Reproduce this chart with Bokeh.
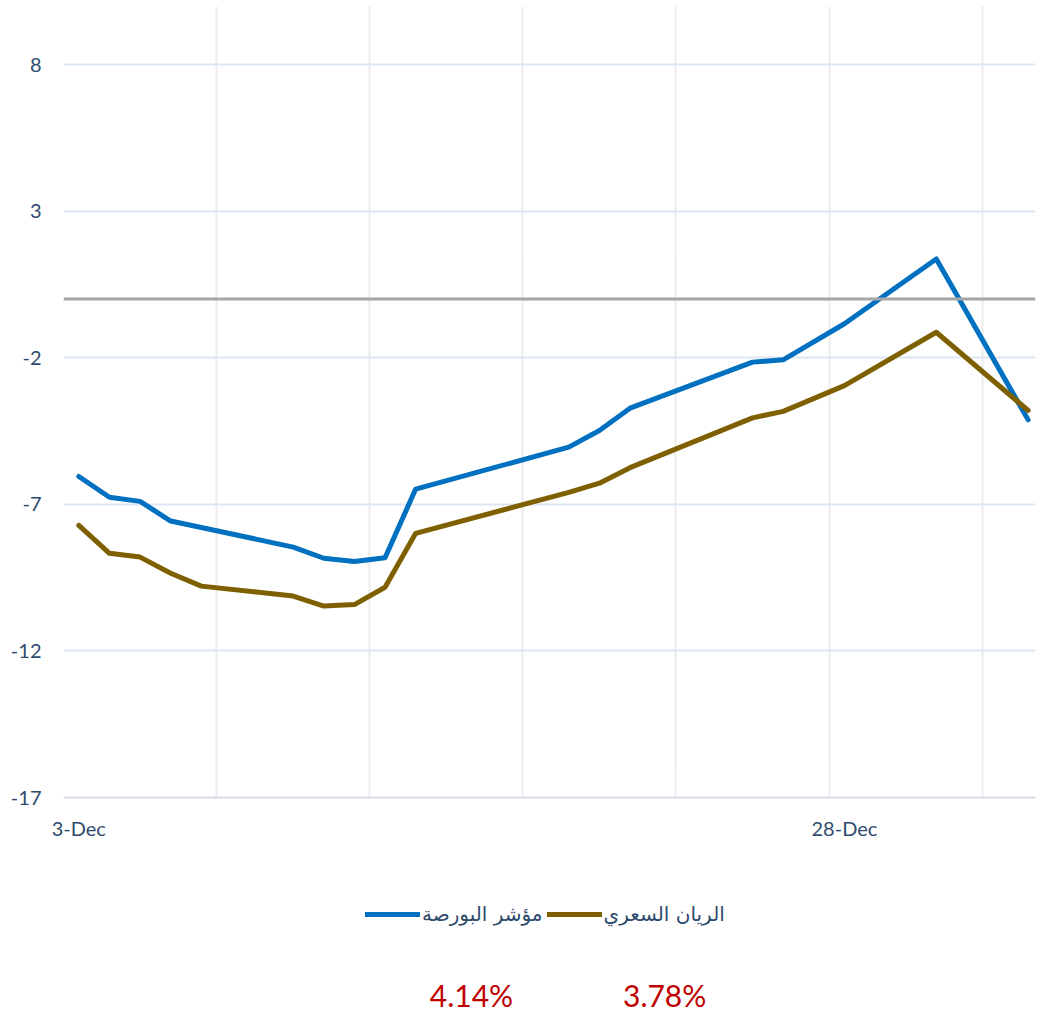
import pandas as pd
from bokeh.plotting import figure
from bokeh.layouts import column
from bokeh.models import (FixedTicker, Span, Legend, LegendItem, Label, Range1d)
from bokeh.embed import file_html
from bokeh.resources import INLINE

# ---- data ----
dates = ["2020-12-03", "2020-12-04", "2020-12-05", "2020-12-06", "2020-12-07",
         "2020-12-10", "2020-12-11", "2020-12-12", "2020-12-13", "2020-12-14",
         "2020-12-19", "2020-12-20", "2020-12-21", "2020-12-25", "2020-12-26",
         "2020-12-28", "2020-12-31", "2021-01-03"]
index_series = [-6.05, -6.76, -6.90, -7.57, -7.79, -8.46, -8.84, -8.95, -8.82, -6.48,
                -5.05, -4.48, -3.72, -2.15, -2.07, -0.84, 1.37, -4.12]
rayan_series = [-7.72, -8.67, -8.80, -9.35, -9.79, -10.13, -10.47, -10.42, -9.83, -7.99,
                -6.59, -6.28, -5.75, -4.05, -3.83, -2.95, -1.13, -3.80]
series_names = ["مؤشر البورصة", "الريان السعري"]
series_colors = ["#0070c0", "#7f6000"]
changes = ["4.14%", "3.78%"]
y_ticks = [-17, -12, -7, -2, 3, 8]
label_dates = ["2020-12-03", "2020-12-28"]

base = pd.Timestamp("2020-12-03")
x = [(pd.Timestamp(d) - base).days for d in dates]
label_x = [(pd.Timestamp(d) - base).days for d in label_dates]
label_txt = [pd.Timestamp(d).strftime("%d-%b").lstrip("0") for d in label_dates]

TXT = "#2f4b6e"
W = 1038
H1 = 860
p = figure(width=W, height=H1, output_backend="svg", toolbar_location=None,
           x_range=Range1d(-0.5, 31.24), y_range=Range1d(-17, 9.98),
           min_border_left=63, min_border_right=3, min_border_top=6,
           min_border_bottom=63)
p.outline_line_color = None

# grids
p.ygrid.ticker = FixedTicker(ticks=y_ticks)
p.ygrid.grid_line_color = "#dde6f3"
p.ygrid.grid_line_width = 2
p.xgrid.ticker = FixedTicker(ticks=[-0.5 + 5 * i for i in range(7)])
p.xgrid.grid_line_color = "#ececec"
p.xgrid.grid_line_width = 2

# axes
p.yaxis.ticker = FixedTicker(ticks=y_ticks)
p.yaxis.major_label_overrides = {t: str(t) for t in y_ticks}
p.yaxis.axis_line_color = None
p.yaxis.major_tick_line_color = None
p.yaxis.minor_tick_line_color = None
p.yaxis.major_label_standoff = 16
p.yaxis.major_label_text_font = "Lato"
p.yaxis.major_label_text_font_size = "20px"
p.yaxis.major_label_text_color = TXT

p.xaxis.ticker = FixedTicker(ticks=label_x)
p.xaxis.major_label_overrides = {k: v for k, v in zip(label_x, label_txt)}
p.xaxis.axis_line_color = "#d5dbe4"
p.xaxis.axis_line_width = 2
p.xaxis.major_tick_line_color = None
p.xaxis.minor_tick_line_color = None
p.xaxis.major_label_standoff = 12
p.xaxis.major_label_text_font = "Lato"
p.xaxis.major_label_text_font_size = "20px"
p.xaxis.major_label_text_color = TXT

p.add_layout(Span(location=0, dimension="width", line_color="#a6a6a6", line_width=3))

for ys, c in zip([index_series, rayan_series], series_colors):
    p.line(x, ys, line_color=c, line_width=5, line_join="round", line_cap="round")

# ---- bottom strip: legend + change percentages ----
H2 = 1012 - H1
q = figure(width=W, height=H2, output_backend="svg", toolbar_location=None,
           x_range=Range1d(-0.5, 31.24), y_range=Range1d(0, H2),
           min_border_left=63, min_border_right=3, min_border_top=0,
           min_border_bottom=0)
q.axis.visible = False
q.grid.visible = False
q.outline_line_color = None
q.extra_y_ranges = {"hidden": Range1d(1000, 1001)}

items = []
for ys, c, n in zip([index_series, rayan_series], series_colors, series_names):
    r = q.line(x, ys, line_color=c, line_width=5, line_cap="round", y_range_name="hidden")
    items.append(LegendItem(label=n, renderers=[r]))

legend = Legend(items=items, orientation="horizontal", location=(302, 86),
                label_text_font="DejaVu Sans", label_text_font_size="20px",
                label_text_color=TXT, glyph_width=55, glyph_height=20, spacing=4,
                border_line_color=None, background_fill_alpha=0, margin=0, padding=0,
                label_standoff=2)
q.add_layout(legend, "center")

for xv, t in zip([12.82, 19.13], changes):
    q.add_layout(Label(x=xv, y=18, text=t, text_align="center", text_baseline="middle",
                       text_color="#c00000", text_font="Lato", text_font_size="30px"))

open("out.html", "w").write(file_html(column(p, q, spacing=0), INLINE))
